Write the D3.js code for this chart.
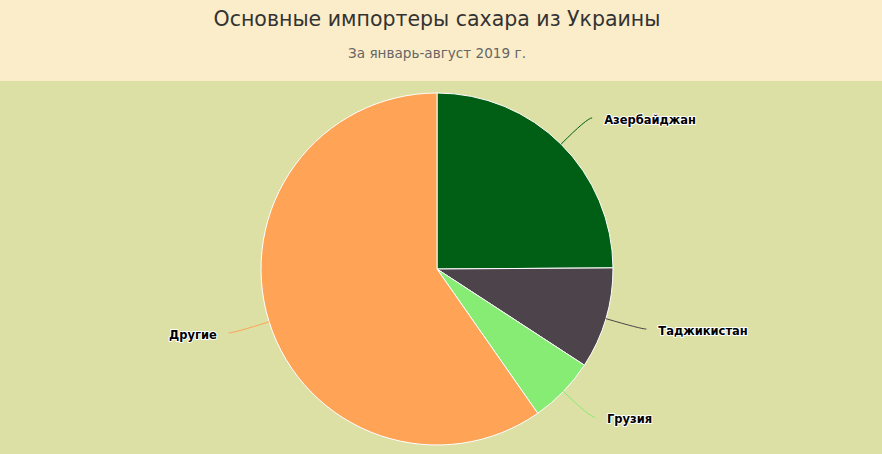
<!DOCTYPE html>
<html>
<head>
<meta charset="utf-8">
<script src="https://cdn.jsdelivr.net/npm/d3@7"></script>
<style>
  body { margin: 0; padding: 0; }
  svg { display: block; font-family: "DejaVu Sans", Verdana, sans-serif; }
</style>
</head>
<body>
<svg id="chart"></svg>
<script>
var width = 882, height = 454
var headerH = 81
var titleText = "Основные импортеры сахара из Украины"
var subtitleText = "За январь-август 2019 г."

// share of imports, %
var countries = ["Азербайджан", "Таджикистан", "Грузия", "Другие"]
var shares = [24.9, 9.3, 6.1, 59.7]
var colors = ["#005e15", "#4d434a", "#87ec73", "#ffa357"]

var svg = d3.select("#chart").attr("width", width).attr("height", height)

// Backgrounds
svg.append("rect").attr("x", 0).attr("y", 0).attr("width", width).attr("height", headerH).attr("fill", "#fbedc9")
svg.append("rect").attr("x", 0).attr("y", headerH).attr("width", width).attr("height", height - headerH).attr("fill", "#dce0a4")

// Title and subtitle
svg.append("text").attr("x", 437).attr("y", 26).attr("text-anchor", "middle")
  .style("font-size", "20.5px").style("fill", "#333333").text(titleText)
svg.append("text").attr("x", 437).attr("y", 58).attr("text-anchor", "middle")
  .style("font-size", "13.6px").style("fill", "#666666").text(subtitleText)

var cx = 437, cy = 269, r = 176, dist = 37

var data = countries.map(function(c, i) { return {name: c, value: shares[i], color: colors[i]} })

var pie = d3.pie().value(function(d) { return d.value }).sort(null)
var arc = d3.arc().innerRadius(0).outerRadius(r)
var arcs = pie(data)

var g = svg.append("g").attr("transform", "translate(" + cx + "," + cy + ")")

g.selectAll("path.slice")
  .data(arcs)
  .enter()
  .append("path")
  .attr("class", "slice")
  .attr("d", arc)
  .attr("fill", function(d) { return d.data.color })
  .attr("stroke", "#ffffff")
  .attr("stroke-width", 1)

// Connectors and labels
arcs.forEach(function(d) {
  var a = (d.startAngle + d.endAngle) / 2
  var sx = Math.sin(a), sy = -Math.cos(a)
  var side = sx >= 0 ? 1 : -1
  var p0 = [r * sx, r * sy]
  var p1 = [(r + dist) * sx, (r + dist) * sy]
  var p2 = [p1[0] + side * 5, p1[1]]
  g.append("path")
    .attr("d", "M" + p0 + "Q" + p1 + " " + p2)
    .attr("fill", "none")
    .attr("stroke", d.data.color)
    .attr("stroke-width", 1)
  g.append("text")
    .attr("x", p2[0] + side * 12)
    .attr("y", p2[1] + 2)
    .attr("dy", "0.35em")
    .attr("text-anchor", side > 0 ? "start" : "end")
    .style("font-size", "11.5px")
    .style("font-weight", "bold")
    .style("fill", "#000000")
    .style("stroke", "#ffffff")
    .style("stroke-width", 2)
    .style("stroke-linejoin", "round")
    .style("paint-order", "stroke")
    .text(d.data.name)
})
</script>
</body>
</html>
